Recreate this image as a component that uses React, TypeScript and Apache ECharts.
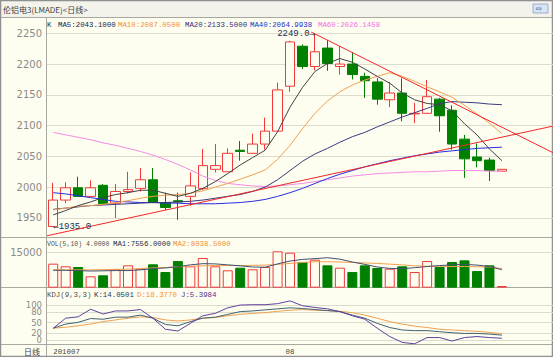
import React, { useEffect, useRef } from "react";
import * as echarts from "echarts";

// ---------- data ----------
const slotCount = 41; // category slots on the time axis (37 bars + empty space on the right)
const dateLabels: { [k: number]: string } = { 0: "201007", 19: "08" };

const opens = [1936, 1979, 1999, 1985, 2003, 1974, 1993, 1998, 2012, 1975, 1978, 1985, 1998, 2029, 2025, 2060, 2055, 2070, 2091, 2164, 2229, 2196, 2226, 2196, 2200, 2180, 2171, 2142, 2153, 2119, 2120, 2143, 2125, 2078, 2049, 2044, 2026];
const closes = [1979, 1999, 1985, 1999, 1973, 1993, 1996, 2012, 1975, 1967, 1976, 2002, 2035, 2035, 2055, 2058, 2070, 2091, 2158, 2236, 2196, 2220, 2201, 2200, 2183, 2173, 2143, 2153, 2120, 2120, 2147, 2116, 2070, 2046, 2043, 2027, 2029];
const lows = [1935, 1974, 1984, 1984, 1972, 1950, 1990, 1993, 1974, 1963, 1947, 1970, 1995, 2024, 2025, 2043, 2054, 2061, 2090, 2155, 2192, 2190, 2189, 2183, 2175, 2145, 2134, 2130, 2107, 2104, 2119, 2090, 2061, 2015, 2032, 2010, 2026];
const highs = [2007, 2008, 2017, 2011, 2005, 2005, 2025, 2031, 2031, 1991, 1991, 2024, 2062, 2070, 2063, 2075, 2087, 2113, 2170, 2238, 2232, 2249, 2239, 2229, 2219, 2186, 2177, 2171, 2177, 2137, 2174, 2145, 2133, 2085, 2071, 2048, 2029];

const ma5 = [1955, 1962, 1970, 1976, 1983, 1988, 1991, 1995, 1995, 1990, 1985, 1990, 1998, 2009, 2022, 2036, 2048, 2060, 2090, 2130, 2162, 2188, 2201, 2209, 2203, 2192, 2180, 2169, 2153, 2142, 2136, 2134, 2124, 2103, 2085, 2062, 2043];
const ma10 = [1963, 1966, 1969, 1970, 1972, 1975, 1978, 1982, 1985, 1987, 1988, 1990, 1994, 2000, 2006, 2013, 2020, 2028, 2045, 2068, 2095, 2120, 2140, 2155, 2166, 2174, 2180, 2186, 2180, 2172, 2163, 2155, 2146, 2133, 2119, 2104, 2087];
const ma20 = [1964, 1966, 1968, 1970, 1971, 1972, 1973, 1974, 1975, 1975, 1976, 1977, 1979, 1982, 1985, 1988, 1993, 2000, 2012, 2027, 2042, 2054, 2063, 2073, 2082, 2089, 2098, 2106, 2114, 2121, 2128, 2136, 2139, 2138, 2137, 2135, 2134];
const ma40 = [1991, 1989, 1986, 1983, 1980, 1977, 1976, 1975, 1975, 1974, 1974, 1973, 1973, 1973, 1974, 1975, 1977, 1980, 1985, 1991, 1998, 2006, 2014, 2021, 2027, 2033, 2038, 2043, 2047, 2051, 2054, 2057, 2059, 2061, 2063, 2064, 2065];
const ma60 = [2089, 2085, 2081, 2077, 2072, 2068, 2063, 2058, 2052, 2045, 2037, 2028, 2018, 2011, 2006, 2004, 2002, 2001, 2002, 2004, 2006, 2009, 2012, 2015, 2018, 2020, 2022, 2023, 2024, 2025, 2025, 2026, 2027, 2027, 2027, 2026, 2026];

// trend lines: [slot index, price]
const trendUp = [[-0.5, 1921], [40.5, 2101]];
const trendDown = [[20.7, 2252], [40.5, 2052]];

const volumes = [10100, 8990, 8700, 4790, 5200, 7730, 9400, 7980, 9830, 6600, 11200, 8990, 12480, 8990, 7300, 8400, 7730, 8700, 15300, 14700, 10800, 11770, 9400, 8400, 6600, 9400, 8280, 7980, 8990, 6600, 11200, 8700, 10800, 11500, 7000, 9400, 700];
const volMa1 = [7300, 7300, 7200, 7000, 7100, 7200, 7200, 7500, 8000, 8300, 8800, 9600, 10100, 10000, 9600, 9200, 8700, 8600, 10000, 11200, 11900, 12200, 12600, 12000, 10800, 9800, 8700, 8100, 8000, 8400, 8900, 9300, 9600, 9800, 9500, 8900, 7556];
const volMa2 = [7600, 7500, 7500, 7500, 7600, 7700, 7800, 8000, 8300, 8500, 8800, 9000, 9200, 9300, 9300, 9300, 9400, 9500, 9800, 10200, 10600, 10900, 10900, 10800, 10600, 10400, 10200, 9900, 9600, 9200, 9000, 9000, 8900, 8900, 8800, 8700, 8038];

const kLine = [34, 46, 51, 62, 60, 66, 66, 72, 63, 45, 41, 53, 63, 66, 74, 82, 84, 87, 90, 93, 91, 88, 85, 82, 72, 63, 48, 36, 29, 27, 27, 24, 21, 19, 19, 17, 14];
const dLine = [34, 37, 41, 46, 53, 58, 63, 67, 65, 58, 55, 58, 63, 65, 70, 74, 77, 79, 83, 86, 88, 86, 85, 83, 79, 72, 63, 53, 46, 40, 36, 31, 29, 27, 25, 22, 18];
const jLine = [34, 63, 67, 89, 75, 84, 84, 88, 63, 31, 26, 48, 70, 77, 93, 101, 102, 102, 105, 113, 99, 94, 90, 82, 70, 60, 34, 10, -7, -11, 7, 7, -3, 7, 10, 7, 5];

const priceTicks = [1950, 2000, 2050, 2100, 2150, 2200, 2250];
const volTicks = [15000];
const kdjTicksInner = [20, 50, 80];
const kdjTicksOuter = [0, 100];

const highLabel = { index: 21, value: 2249, text: "2249.0→" };
const lowLabel = { index: 0, value: 1935, text: "←1935.0" };

const titleText = "伦铝电3(LMADE)<日线>";
const mainLegend = [
  { t: "K", c: "#303030", x: 47 },
  { t: "MA5:2043.1000", c: "#202050", x: 58 },
  { t: "MA10:2087.0500", c: "#f09030", x: 118 },
  { t: "MA20:2133.5000", c: "#303080", x: 185 },
  { t: "MA40:2064.9938", c: "#2030d0", x: 250 },
  { t: "MA60:2026.1458", c: "#f070e0", x: 318 },
];
const volLegend = [
  { t: "VOL(5,10) 4.0000", c: "#505050", x: 47, s: 6.5 },
  { t: "MA1:7556.0000", c: "#203050", x: 113, s: 7.4 },
  { t: "MA2:8038.5000", c: "#f09030", x: 173, s: 7.4 },
];
const kdjLegend = [
  { t: "KDJ(9,3,3)", c: "#505050", x: 47 },
  { t: "K:14.0501", c: "#204050", x: 94 },
  { t: "D:18.3770", c: "#f09030", x: 137 },
  { t: "J:5.3984", c: "#503090", x: 181 },
];
const periodLabel = "日线";

// ---------- styles ----------
const BG = "#fefef0";
const UP = "#f03a3a";
const DOWN = "#008000";
const GRID = "#dcdccc";
const FRAME = "#a8a8a0";
const MONO = "'Liberation Mono', 'DejaVu Sans Mono', monospace";

export default function App() {
  const ref = useRef<HTMLDivElement>(null);
  useEffect(() => {
    if (!ref.current) return;
    const chart = echarts.init(ref.current, null, { renderer: "svg" });
    const cats = Array.from({ length: slotCount }, (_, i) => String(i));
    const candleData = opens.map((o, i) => [o, closes[i], lows[i], highs[i]]);
    const volData = volumes.map((v, i) => {
      const up = closes[i] >= opens[i];
      return {
        value: v,
        itemStyle: up
          ? { color: BG, borderColor: UP, borderWidth: 1 }
          : { color: DOWN, borderColor: DOWN, borderWidth: 1 },
      };
    });
    const dateCats = cats.map((_, i) => {
      const t = dateLabels[i] || "";
      return i === 0 ? { value: t, textStyle: { align: "left" } } : { value: t, textStyle: { align: "center" } };
    });

    const line = (name: string, data: any[], color: string, xi: number, yi: number, extra: any = {}) => ({
      name,
      type: "line",
      data,
      xAxisIndex: xi,
      yAxisIndex: yi,
      symbol: "none",
      silent: true,
      lineStyle: { color, width: 1 },
      ...extra,
    });

    const textEl = (t: string, x: number, y: number, color: string, extra: any = {}) => ({
      type: "text",
      x,
      y,
      silent: true,
      style: { text: t, fill: color, font: `7.4px ${MONO}`, verticalAlign: "middle", ...extra },
    });

    const hline = (y: number) => ({
      type: "line",
      silent: true,
      shape: { x1: 0, y1: y, x2: 553, y2: y },
      style: { stroke: FRAME, lineWidth: 1 },
    });

    const yLabelStyle = {
      color: "#8a8a8a",
      fontSize: 10,
      fontFamily: "'DejaVu Sans', sans-serif",
      margin: 5,
      formatter: (v: number) => String(v),
    };
    const valueAxis = (gridIndex: number, min: number, max: number, ticks: number[], fontSize = 10) => ({
      type: "value",
      gridIndex,
      position: "left",
      min,
      max,
      axisLine: { show: false },
      axisTick: { show: false, customValues: ticks },
      axisLabel: { ...yLabelStyle, fontSize, customValues: ticks },
      splitLine: { show: true, lineStyle: { color: GRID, width: 1 } },
    });
    const gridBase = { left: 47, right: -5, containLabel: false, outerBoundsMode: "none" };

    chart.setOption({
      animation: false,
      backgroundColor: BG,
      grid: [
        { ...gridBase, top: 17, height: 220 },
        { ...gridBase, top: 237, height: 50.7 },
        { ...gridBase, top: 288, height: 56 },
      ],
      xAxis: [
        { type: "category", gridIndex: 0, data: cats, show: false },
        { type: "category", gridIndex: 1, data: cats, show: false },
        {
          type: "category",
          gridIndex: 2,
          data: dateCats,
          axisLine: { show: false },
          axisTick: { show: false },
          splitLine: { show: false },
          axisLabel: { interval: 0, color: "#404040", fontSize: 7.4, fontFamily: MONO, margin: 4 },
        },
        { type: "value", gridIndex: 0, min: -0.5, max: slotCount - 0.5, show: false },
      ],
      yAxis: [
        valueAxis(0, 1919, 2276.5, priceTicks),
        valueAxis(1, 0, 21303, volTicks),
        valueAxis(2, -11.6, 150.3, kdjTicksInner, 8.5),
        valueAxis(2, -11.6, 150.3, kdjTicksOuter, 8.5),
      ],
      series: [
        line("MA60", ma60, "#f38ae6", 0, 0),
        line("MA40", ma40, "#2a2ae0", 0, 0),
        line("MA20", ma20, "#3a3a80", 0, 0),
        line("MA10", ma10, "#f0a050", 0, 0),
        line("MA5", ma5, "#404048", 0, 0),
        line("trendUp", trendUp, "#f02828", 3, 0, { clip: true }),
        line("trendDown", trendDown, "#f02828", 3, 0, { clip: true }),
        {
          name: "K",
          type: "candlestick",
          xAxisIndex: 0,
          yAxisIndex: 0,
          data: candleData,
          barWidth: 10,
          silent: true,
          itemStyle: { color: BG, color0: DOWN, borderColor: UP, borderColor0: DOWN, borderWidth: 1 },
          markPoint: {
            symbol: "circle",
            symbolSize: 0,
            silent: true,
            data: [
              {
                coord: [highLabel.index, highLabel.value],
                label: { show: true, position: "left", distance: 0, formatter: highLabel.text, color: "#1a3050", fontSize: 9, fontFamily: MONO },
              },
              {
                coord: [lowLabel.index, lowLabel.value],
                label: { show: true, position: "right", distance: 0, formatter: lowLabel.text, color: "#1a3050", fontSize: 9, fontFamily: MONO },
              },
            ],
          },
        },
        {
          name: "VOL",
          type: "bar",
          xAxisIndex: 1,
          yAxisIndex: 1,
          data: volData,
          barWidth: 10,
          silent: true,
        },
        line("VMA2", volMa2, "#f0a050", 1, 1),
        line("VMA1", volMa1, "#405070", 1, 1),
        line("D", dLine, "#f0a050", 2, 2),
        line("K", kLine, "#406070", 2, 2),
        line("J", jLine, "#6040a0", 2, 2),
      ],
      graphic: [
        { type: "rect", silent: true, shape: { x: 0, y: 0, width: 553, height: 17 }, style: { fill: "#f3f3ec" } },
        textEl(titleText, 3, 9, "#404040", { font: "8px 'Noto Sans CJK SC', sans-serif" }),
        { type: "rect", silent: true, shape: { x: 533, y: 4, width: 15, height: 9 }, style: { fill: "#d8e4f4", stroke: "#9ab0d0", lineWidth: 1 } },
        textEl("⇔", 535.5, 8.5, "#6080b0", { font: "8px 'DejaVu Sans', sans-serif" }),
        hline(17.5),
        hline(237.5),
        hline(287.5),
        hline(344.5),
        { type: "line", silent: true, shape: { x1: 46.5, y1: 17, x2: 46.5, y2: 357 }, style: { stroke: FRAME, lineWidth: 1 } },
        { type: "rect", silent: true, shape: { x: 0.5, y: 0.5, width: 552, height: 356 }, style: { fill: "none", stroke: "#909090", lineWidth: 1.5 } },
        ...mainLegend.map((l) => textEl(l.t, l.x, 24.5, l.c)),
        ...volLegend.map((l) => textEl(l.t, l.x, 244, l.c, { font: `${l.s}px ${MONO}` })),
        ...kdjLegend.map((l) => textEl(l.t, l.x, 295, l.c)),
        textEl(periodLabel, 40, 351.5, "#404040", { font: "8px 'Noto Sans CJK SC', sans-serif", align: "right" }),
      ],
    });
    return () => chart.dispose();
  }, []);
  return <div ref={ref} style={{ position: "absolute", left: 0, top: 0, width: 553, height: 357 }} />;
}
